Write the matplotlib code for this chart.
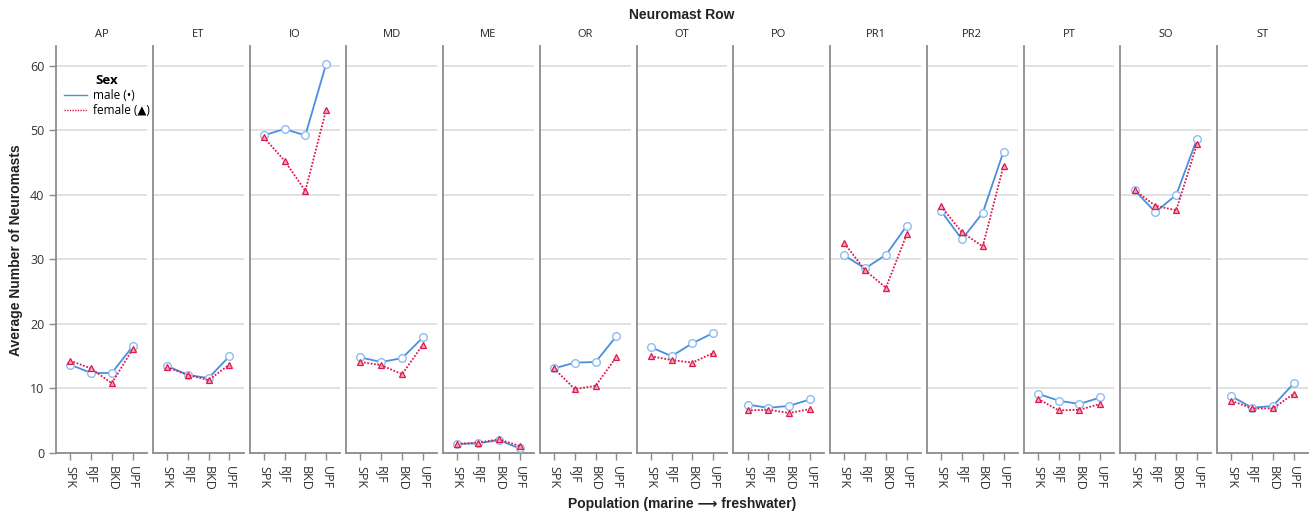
import numpy as np
import matplotlib
matplotlib.use("Agg")
import matplotlib.pyplot as plt
from matplotlib.lines import Line2D

## neuromast rows (panels) and populations (x categories)
rows = ['AP', 'ET', 'IO', 'MD', 'ME', 'OR', 'OT', 'PO', 'PR1', 'PR2', 'PT', 'SO', 'ST']
populations = ['SPK', 'RJF', 'BKD', 'UPF']

## average number of neuromasts, one row per neuromast row, SPK/RJF/BKD/UPF
male_means = [
    [13.7, 12.4, 12.4, 16.5],   # AP
    [13.5, 12.1, 11.6, 15.0],   # ET
    [49.2, 50.2, 49.2, 60.3],   # IO
    [14.8, 14.1, 14.7, 17.9],   # MD
    [1.4, 1.5, 2.0, 0.7],       # ME
    [13.1, 14.0, 14.1, 18.1],   # OR
    [16.4, 15.0, 17.0, 18.6],   # OT
    [7.5, 7.0, 7.3, 8.3],       # PO
    [30.6, 28.6, 30.7, 35.2],   # PR1
    [37.5, 33.1, 37.2, 46.7],   # PR2
    [9.2, 8.1, 7.6, 8.6],       # PT
    [40.7, 37.3, 40.0, 48.7],   # SO
    [8.8, 7.0, 7.3, 10.8],      # ST
]
female_means = [
    [14.3, 13.1, 10.8, 16.1],
    [13.3, 12.1, 11.3, 13.7],
    [48.9, 45.3, 40.6, 53.2],
    [14.1, 13.6, 12.2, 16.8],
    [1.4, 1.6, 2.1, 1.1],
    [13.1, 9.9, 10.4, 14.9],
    [15.0, 14.4, 14.0, 15.5],
    [6.6, 6.7, 6.2, 6.8],
    [32.5, 28.3, 25.6, 33.9],
    [38.2, 34.2, 32.0, 44.5],
    [8.4, 6.6, 6.7, 7.6],
    [40.7, 38.3, 37.6, 47.9],
    [8.1, 6.9, 6.9, 9.2],
]
y_ticks = [0, 10, 20, 30, 40, 50, 60]

male_col = '#4a8fde'
male_mk = '#8fbcef'
female_col = '#dc1a4c'
spine_col = '#8c8c8c'
grid_col = '#dcdcdc'
text_col = '#222222'
small_font = ['Open Sans', 'DejaVu Sans']

plt.rcParams['font.family'] = ['Liberation Sans', 'DejaVu Sans']

fig = plt.figure(figsize=(13.09, 5.16), dpi=100)
gs = fig.add_gridspec(1, len(rows), left=56/1309, right=1308/1309,
                      bottom=1-453/516, top=1-45.7/516, wspace=0.066)

xs = np.arange(len(populations))
axes = []
for i, row in enumerate(rows):
    ax = fig.add_subplot(gs[0, i], sharey=axes[0] if axes else None)
    axes.append(ax)

    ax.plot(xs, male_means[i], color=male_col, lw=1.3, zorder=3,
            marker='o', ms=5.5, mfc='white', mec=male_mk, mew=1.0)
    ax.plot(xs, female_means[i], color=female_col, lw=1.3, ls=(0, (1.0, 0.9)),
            zorder=4, marker='^', ms=4, mfc='#f7a5b8', mec=female_col, mew=0.9)

    ax.set_xlim(-0.68, 3.68)
    ax.set_ylim(0, 63.1)
    ax.set_yticks(y_ticks)
    ax.yaxis.grid(True, color=grid_col, lw=1.2)
    ax.set_axisbelow(True)

    for side in ['top', 'right']:
        ax.spines[side].set_visible(False)
    for side in ['left', 'bottom']:
        ax.spines[side].set_color(spine_col)
        ax.spines[side].set_linewidth(1.3)

    ax.set_xticks(xs)
    ax.set_xticklabels(populations, rotation=270, fontsize=9, color='#333333',
                       family=small_font)
    ax.tick_params(axis='x', length=5, color=spine_col, width=1.0, pad=4)
    if i == 0:
        ax.tick_params(axis='y', length=5, color=spine_col, width=1.0,
                       labelsize=9, labelcolor='#333333')
        for lab in ax.get_yticklabels():
            lab.set_family(small_font)
    else:
        ax.tick_params(axis='y', length=0, labelleft=False)

    ax.set_title(row, fontsize=8, color=text_col, pad=6, family=small_font)

## legend inside the first panel
handles = [Line2D([0], [0], color=male_col, lw=1.0),
           Line2D([0], [0], color=female_col, lw=1.0, ls=(0, (1.0, 0.9)))]
leg = axes[0].legend(handles, ['male (\u2022)', 'female (\u25b2)'], title='Sex',
                     loc='upper left', bbox_to_anchor=(0.0, 0.95), frameon=False,
                     title_fontsize=9.5, handlelength=1.9,
                     handletextpad=0.5, labelspacing=0.15, borderaxespad=0.3,
                     prop={'family': small_font, 'size': 8.5})
leg.get_title().set_fontweight('bold')
leg.get_title().set_family(small_font)

fig.text(0.5 * (56 + 1308) / 1309, 1 - 15/516, 'Neuromast Row', ha='center', va='center',
         fontsize=10, fontweight='bold', color=text_col)
fig.text(0.5 * (56 + 1308) / 1309, 1 - 504/516, 'Population (marine \u27f6 freshwater)',
         ha='center', va='center', fontsize=10, fontweight='bold', color=text_col)
fig.text(16/1309, 1 - 250/516, 'Average Number of Neuromasts', ha='center', va='center',
         rotation=90, fontsize=10, fontweight='bold', color=text_col)

fig.savefig('out.png', dpi=100, facecolor='white')
